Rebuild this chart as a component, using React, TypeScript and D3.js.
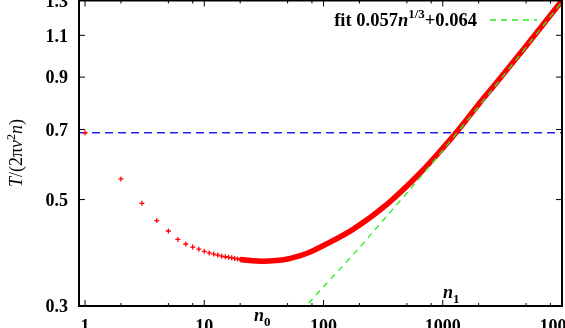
import { scaleLog, line, curveCatmullRom } from "d3";

// sparse points, one per n (drawn as + markers)
const nSparse = [1, 2, 3, 4, 5, 6, 7, 8, 9, 10, 11, 12, 13, 14, 15, 16, 17, 18, 19, 20, 22, 24, 26, 28, 30];
const tSparse = [0.689, 0.552, 0.491, 0.452, 0.43, 0.413, 0.404, 0.398, 0.394, 0.39, 0.387, 0.385, 0.383, 0.381, 0.38, 0.379, 0.378, 0.377, 0.376, 0.375, 0.374, 0.373, 0.3725, 0.372, 0.372];

// dense part, where the markers merge into a band
const nDense = [20, 30, 40, 50, 64, 80, 100, 178, 344, 655, 1000, 1290, 2000, 3000, 5000, 10000];
const tDense = [0.375, 0.372, 0.3731, 0.376, 0.382, 0.3903, 0.401, 0.434, 0.49, 0.57, 0.64, 0.689, 0.79, 0.893, 1.045, 1.3];

// fit 0.057 n^(1/3) + 0.064
const nFit = [75, 100, 200, 300, 500, 1000, 2000, 3000, 5000, 10000];
const tFit = [0.304, 0.329, 0.397, 0.446, 0.516, 0.634, 0.782, 0.886, 1.039, 1.292];

const tRef = 0.689; // blue dashed level

const xTicks = [1, 10, 100, 1000, 10000];
const xMinor = [2, 5, 8, 20, 50, 80, 200, 500, 800, 2000, 5000, 8000];
const yTicks = [0.3, 0.5, 0.7, 0.9, 1.1, 1.3];

const W = 565;
const H = 328;
const left = 79;
const right = 562;
const top = 0.5;
const bottom = 306;
const font = "'Liberation Serif', 'Times New Roman', serif";

export default function App() {
  const x = scaleLog().domain([0.89, 10000]).range([left, right]);
  const y = scaleLog().domain([0.3, 1.3]).range([bottom, top]);

  const pathOf = (ns: number[], ts: number[]) =>
    line<number>()
      .x((n) => x(n))
      .y((_, i) => y(ts[i]))
      .curve(curveCatmullRom.alpha(0.5))(ns) || "";

  return (
    <div style={{ position: "fixed", left: 0, top: 0 }}>
      <svg width={W} height={H} style={{ display: "block" }} fontFamily={font}>
        <defs>
          <clipPath id="plot">
            <rect x={left} y={top} width={right - left} height={bottom - top} />
          </clipPath>
        </defs>

        {/* ticks (inward, mirrored) */}
        <g stroke="black" strokeWidth={1}>
          {xTicks.map((t) => (
            <g key={"xt" + t}>
              <line x1={x(t)} x2={x(t)} y1={bottom} y2={bottom - 6} />
              <line x1={x(t)} x2={x(t)} y1={top} y2={top + 6} />
            </g>
          ))}
          {xMinor.map((t) => (
            <g key={"xm" + t}>
              <line x1={x(t)} x2={x(t)} y1={bottom} y2={bottom - 3} />
              <line x1={x(t)} x2={x(t)} y1={top} y2={top + 3} />
            </g>
          ))}
          {yTicks.map((t) => (
            <g key={"yt" + t}>
              <line x1={left} x2={left + 6} y1={y(t)} y2={y(t)} />
              <line x1={right} x2={right - 6} y1={y(t)} y2={y(t)} />
            </g>
          ))}
        </g>

        <g clipPath="url(#plot)">
          <line
            x1={left}
            x2={right}
            y1={y(tRef)}
            y2={y(tRef)}
            stroke="#2222ee"
            strokeWidth={1.3}
            strokeDasharray="8,5"
          />
          <path d={pathOf(nDense, tDense)} fill="none" stroke="#ff0000" strokeWidth={5.5} />
          {nSparse.map((n, i) => (
            <path
              key={"m" + n}
              transform={`translate(${x(n)},${y(tSparse[i])})`}
              d="M-2.5,0H2.5M0,-2.5V2.5"
              stroke="#ff0000"
              strokeWidth={1.3}
            />
          ))}
          <path
            d={pathOf(nFit, tFit)}
            fill="none"
            stroke="#22ee22"
            strokeWidth={1.3}
            strokeDasharray="6,5"
          />
        </g>

        <rect
          x={left}
          y={top}
          width={right - left}
          height={bottom - top}
          fill="none"
          stroke="black"
          strokeWidth={2}
        />

        {/* tick labels */}
        <g fontSize={18} fontWeight="bold">
          {yTicks.map((t) => (
            <text key={"yl" + t} x={68} y={y(t)} dy="0.35em" textAnchor="end">
              {t.toFixed(1)}
            </text>
          ))}
          {xTicks.map((t) => (
            <text key={"xl" + t} x={x(t)} y={332} textAnchor="middle">
              {t}
            </text>
          ))}
        </g>

        {/* n0 / n1 marks */}
        <text x={254} y={321} fontSize={18} fontWeight="bold">
          <tspan fontStyle="italic">n</tspan>
          <tspan fontSize={13} dy={5}>0</tspan>
        </text>
        <text x={443} y={298} fontSize={18} fontWeight="bold">
          <tspan fontStyle="italic">n</tspan>
          <tspan fontSize={13} dy={5}>1</tspan>
        </text>

        {/* y label */}
        <text transform="translate(22,153) rotate(-90)" textAnchor="middle" fontSize={18}>
          <tspan fontStyle="italic">T</tspan>
          <tspan>/(2π</tspan>
          <tspan fontStyle="italic">v</tspan>
          <tspan fontSize={12} dy={-7}>2</tspan>
          <tspan fontStyle="italic" dy={7}>n</tspan>
          <tspan>)</tspan>
        </text>

        {/* legend */}
        <text x={477} y={26} textAnchor="end" fontSize={18.5} fontWeight="bold">
          <tspan>fit 0.057</tspan>
          <tspan fontStyle="italic">n</tspan>
          <tspan fontSize={13} dy={-8}>1/3</tspan>
          <tspan dy={8}>+0.064</tspan>
        </text>
        <line x1={490} x2={537} y1={20} y2={20} stroke="#22ee22" strokeWidth={1.3} strokeDasharray="6,5" />
      </svg>
    </div>
  );
}
